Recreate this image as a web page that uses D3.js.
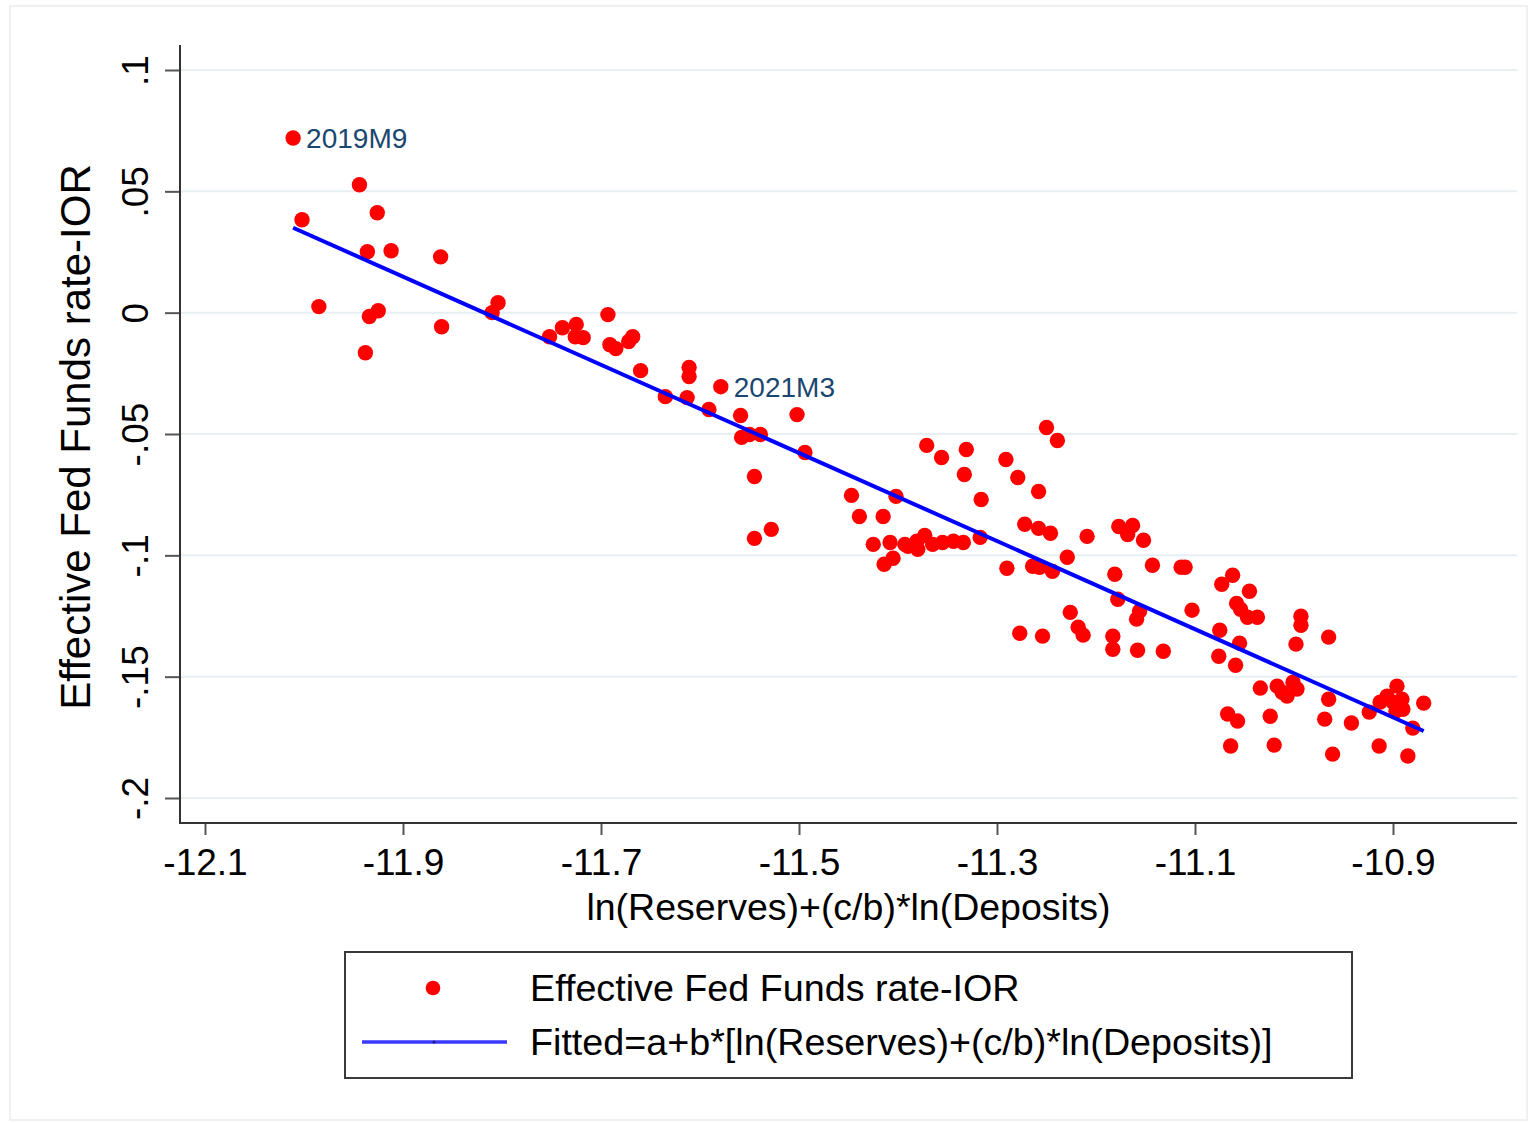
<!DOCTYPE html>
<html>
<head>
<meta charset="utf-8">
<script src="https://cdn.jsdelivr.net/npm/d3@7"></script>
<style>
  html, body { margin: 0; padding: 0; background: #ffffff; }
  svg { display: block; }
  text { font-family: "Liberation Sans", Arial, Helvetica, sans-serif; }
</style>
</head>
<body>
<svg id="chart" width="1537" height="1123"></svg>
<script>
// ---- data ----
const xValues = [
  -12.011, -12.002, -11.944, -11.926, -11.936, -11.912, -11.862, -11.985, -11.934, -11.925,
  -11.861, -11.938, -11.810, -11.804, -11.752, -11.739, -11.725, -11.726, -11.718, -11.693,
  -11.691, -11.685, -11.672, -11.668, -11.660, -11.611, -11.611, -11.635, -11.613, -11.591,
  -11.579, -11.559, -11.558, -11.550, -11.539, -11.502, -11.494, -11.545, -11.545, -11.528,
  -11.250, -11.239, -11.371, -11.356, -11.331, -11.333, -11.291, -11.279, -11.258, -11.447,
  -11.402, -11.439, -11.415, -11.316, -11.425, -11.408, -11.393, -11.390, -11.381, -11.373,
  -11.380, -11.365, -11.355, -11.344, -11.334, -11.317, -11.405, -11.414, -11.272, -11.258,
  -11.246, -11.209, -11.177, -11.163, -11.168, -11.152, -11.229, -11.290, -11.264, -11.257,
  -11.244, -11.181, -11.143, -11.114, -11.110, -11.073, -11.062, -11.045, -11.058, -11.054,
  -11.047, -11.037, -11.103, -11.178, -11.156, -11.159, -11.226, -11.277, -11.254, -11.218,
  -11.213, -11.183, -11.183, -11.158, -11.132, -11.075, -11.055, -11.076, -11.059, -10.993,
  -10.993, -10.965, -10.998, -11.034, -11.017, -11.012, -11.007, -11.001, -10.997, -10.965,
  -10.896, -10.906, -10.913, -10.900, -10.891, -10.890, -10.897, -10.924, -10.869, -10.880,
  -11.067, -11.057, -11.024, -10.969, -10.942, -11.064, -11.020, -10.961, -10.914, -10.885
];
const yValues = [
  0.0720, 0.0383, 0.0527, 0.0412, 0.0251, 0.0255, 0.0230, 0.0025, -0.0016, 0.0008,
  -0.0058, -0.0165, 0.0000, 0.0041, -0.0099, -0.0062, -0.0049, -0.0099, -0.0103, -0.0008,
  -0.0132, -0.0148, -0.0119, -0.0099, -0.0239, -0.0226, -0.0263, -0.0346, -0.0350, -0.0399,
  -0.0305, -0.0424, -0.0514, -0.0502, -0.0502, -0.0420, -0.0576, -0.0675, -0.0930, -0.0893,
  -0.0473, -0.0527, -0.0547, -0.0597, -0.0564, -0.0667, -0.0605, -0.0679, -0.0737, -0.0753,
  -0.0757, -0.0840, -0.0840, -0.0770, -0.0955, -0.0947, -0.0955, -0.0963, -0.0942, -0.0918,
  -0.0975, -0.0955, -0.0947, -0.0942, -0.0947, -0.0926, -0.1012, -0.1037, -0.0872, -0.0889,
  -0.0909, -0.0922, -0.0881, -0.0877, -0.0914, -0.0938, -0.1008, -0.1053, -0.1045, -0.1049,
  -0.1066, -0.1078, -0.1041, -0.1049, -0.1049, -0.1119, -0.1082, -0.1148, -0.1198, -0.1222,
  -0.1255, -0.1255, -0.1226, -0.1181, -0.1230, -0.1263, -0.1235, -0.1321, -0.1333, -0.1296,
  -0.1329, -0.1333, -0.1387, -0.1391, -0.1395, -0.1309, -0.1362, -0.1416, -0.1453, -0.1251,
  -0.1288, -0.1337, -0.1366, -0.1547, -0.1539, -0.1564, -0.1580, -0.1523, -0.1551, -0.1593,
  -0.1539, -0.1580, -0.1605, -0.1605, -0.1593, -0.1634, -0.1642, -0.1646, -0.1609, -0.1712,
  -0.1654, -0.1683, -0.1663, -0.1675, -0.1691, -0.1786, -0.1782, -0.1819, -0.1786, -0.1827
];
// fitted line end points (at min and max of x)
const fitX = [-12.011, -10.869];
const fitY = [0.035, -0.1724];
// labelled observations
const labelNames = ["2019M9", "2021M3"];
const labelIndex = [0, 30];
// ticks
const xTicks = [-12.1, -11.9, -11.7, -11.5, -11.3, -11.1, -10.9];
const xTickLabels = ["-12.1", "-11.9", "-11.7", "-11.5", "-11.3", "-11.1", "-10.9"];
const yTicks = [0.1, 0.05, 0, -0.05, -0.1, -0.15, -0.2];
const yTickLabels = [".1", ".05", "0", "-.05", "-.1", "-.15", "-.2"];
const xTitle = "ln(Reserves)+(c/b)*ln(Deposits)";
const yTitle = "Effective Fed Funds rate-IOR";
const legendLabels = ["Effective Fed Funds rate-IOR", "Fitted=a+b*[ln(Reserves)+(c/b)*ln(Deposits)]"];

// ---- drawing ----
const svg = d3.select("#chart");
const plot = { left: 180, right: 1517, top: 45, bottom: 823 };
const x = d3.scaleLinear().domain([-12.1, -10.9]).range([205, 1393]);
const y = d3.scaleLinear().domain([0.1, -0.2]).range([70, 798]);

// outer frame
svg.append("rect").attr("x", 10).attr("y", 6).attr("width", 1517).attr("height", 1114)
  .attr("fill", "#ffffff").attr("stroke", "#ececec").attr("stroke-width", 1.5);

// gridlines
svg.append("g").selectAll("line").data(yTicks).join("line")
  .attr("x1", plot.left).attr("x2", plot.right)
  .attr("y1", d => y(d)).attr("y2", d => y(d))
  .attr("stroke", "#e6eff1").attr("stroke-width", 2);

// x axis
const xAxis = d3.axisBottom(x).tickValues(xTicks)
  .tickFormat((d, i) => xTickLabels[i]).tickSize(12).tickSizeOuter(0);
const gx = svg.append("g").attr("transform", `translate(0,${plot.bottom})`).call(xAxis);
gx.select(".domain").remove();
gx.selectAll(".tick line").attr("stroke", "#555").attr("stroke-width", 2);
gx.selectAll(".tick text").attr("font-size", 37).attr("fill", "#000")
  .attr("font-family", "Liberation Sans, Arial, sans-serif").attr("dy", null).attr("y", 52);

// y axis
const yAxis = d3.axisLeft(y).tickValues(yTicks)
  .tickFormat((d, i) => yTickLabels[i]).tickSize(15).tickSizeOuter(0);
const gy = svg.append("g").attr("transform", `translate(${plot.left},0)`).call(yAxis);
gy.select(".domain").remove();
gy.selectAll(".tick line").attr("stroke", "#555").attr("stroke-width", 2);
gy.selectAll(".tick text").attr("font-size", 37).attr("fill", "#000")
  .attr("font-family", "Liberation Sans, Arial, sans-serif")
  .attr("x", null).attr("dy", null)
  .attr("text-anchor", "middle")
  .attr("transform", "translate(-32,0) rotate(-90)");

// axis lines
svg.append("line").attr("x1", plot.left).attr("x2", plot.left)
  .attr("y1", plot.top).attr("y2", plot.bottom + 1)
  .attr("stroke", "#333").attr("stroke-width", 2);
svg.append("line").attr("x1", plot.left - 1).attr("x2", plot.right)
  .attr("y1", plot.bottom).attr("y2", plot.bottom)
  .attr("stroke", "#333").attr("stroke-width", 2);

// axis titles
svg.append("text").attr("x", (plot.left + plot.right) / 2).attr("y", 920)
  .attr("text-anchor", "middle").attr("font-size", 37.5).attr("fill", "#000").text(xTitle);
svg.append("text").attr("transform", `translate(90,${(plot.top + plot.bottom) / 2 + 3}) rotate(-90)`)
  .attr("text-anchor", "middle").attr("font-size", 42).attr("fill", "#000").text(yTitle);

// points
const pts = xValues.map((v, i) => ({ x: v, y: yValues[i] }));
svg.append("g").selectAll("circle").data(pts).join("circle")
  .attr("cx", d => x(d.x)).attr("cy", d => y(d.y)).attr("r", 7.7)
  .attr("fill", "#ff0000");

// fitted line
const fitPts = fitX.map((v, i) => ({ x: v, y: fitY[i] }));
svg.append("path").datum(fitPts)
  .attr("d", d3.line().x(d => x(d.x)).y(d => y(d.y)))
  .attr("fill", "none").attr("stroke", "#0000ff").attr("stroke-width", 4);

// point labels
svg.append("g").selectAll("text").data(labelIndex).join("text")
  .attr("x", d => x(xValues[d]) + 13).attr("y", d => y(yValues[d]) + 10)
  .attr("font-size", 28).attr("fill", "#1a476f")
  .text((d, i) => labelNames[i]);

// legend
const lg = svg.append("g");
lg.append("rect").attr("x", 345).attr("y", 952).attr("width", 1007).attr("height", 126)
  .attr("fill", "#fff").attr("stroke", "#3a3a3a").attr("stroke-width", 2);
lg.append("circle").attr("cx", 433).attr("cy", 988).attr("r", 7.3).attr("fill", "#ff0000");
lg.append("line").attr("x1", 362).attr("x2", 507).attr("y1", 1042).attr("y2", 1042)
  .attr("stroke", "#3a3aff").attr("stroke-width", 3.5);
lg.append("circle").attr("cx", 434).attr("cy", 1042).attr("r", 1.5).attr("fill", "#1a1a80");
lg.selectAll("text.lab").data(legendLabels).join("text").attr("class", "lab")
  .attr("x", 530).attr("y", (d, i) => 1001 + i * 54)
  .attr("font-size", 37.7).attr("fill", "#000").text(d => d);
</script>
</body>
</html>
